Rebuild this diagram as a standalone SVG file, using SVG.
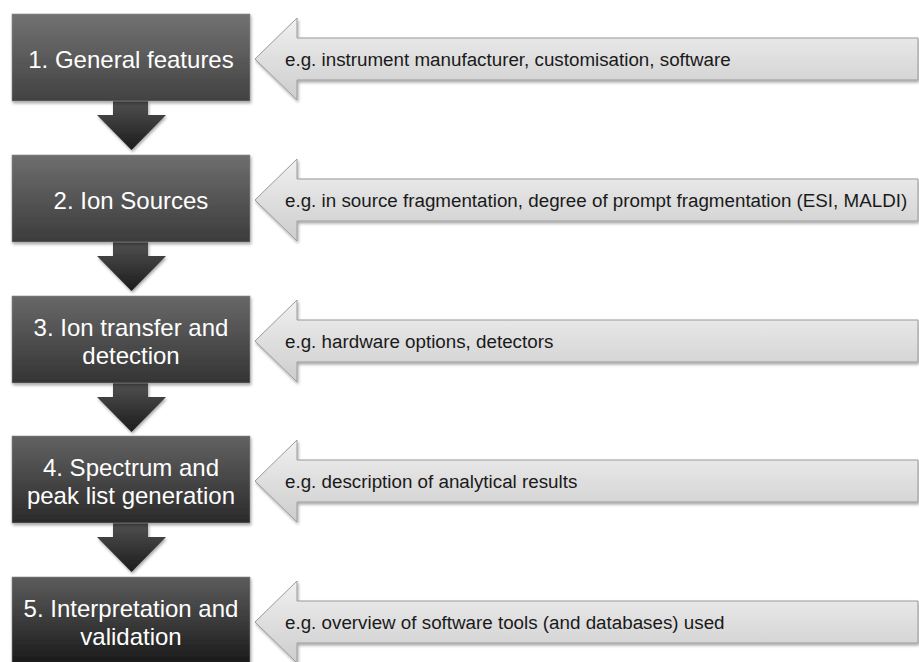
<svg xmlns="http://www.w3.org/2000/svg" width="919" height="662" viewBox="0 0 919 662">
<defs>
<linearGradient id="g1" x1="0" y1="0" x2="0" y2="1"><stop offset="0" stop-color="#727272"/><stop offset="1" stop-color="#424242"/></linearGradient>
<linearGradient id="g2" x1="0" y1="0" x2="0" y2="1"><stop offset="0" stop-color="#6e6e6e"/><stop offset="1" stop-color="#3c3c3c"/></linearGradient>
<linearGradient id="g3" x1="0" y1="0" x2="0" y2="1"><stop offset="0" stop-color="#686868"/><stop offset="1" stop-color="#343434"/></linearGradient>
<linearGradient id="g4" x1="0" y1="0" x2="0" y2="1"><stop offset="0" stop-color="#626262"/><stop offset="1" stop-color="#2a2a2a"/></linearGradient>
<linearGradient id="g5" x1="0" y1="0" x2="0" y2="1"><stop offset="0" stop-color="#5c5c5c"/><stop offset="1" stop-color="#1a1a1a"/></linearGradient>
<linearGradient id="gd" x1="0" y1="0" x2="0" y2="1"><stop offset="0" stop-color="#505050"/><stop offset="1" stop-color="#1c1c1c"/></linearGradient>
<linearGradient id="gl" x1="0" y1="0" x2="0" y2="1"><stop offset="0" stop-color="#f0f0f0"/><stop offset="1" stop-color="#cdcdcd"/></linearGradient>
<filter id="sh" x="-10%" y="-10%" width="120%" height="130%">
<feDropShadow dx="1" dy="2" stdDeviation="1.5" flood-color="#000" flood-opacity="0.35"/>
</filter>
<path id="la" d="M255 0 L297 -41 L297 -21 L918 -21 L918 21 L297 21 L297 41 Z"/>
<path id="da" d="M113 0 L148 0 L148 14 L166 14 L131.5 49 L97 14 L113 14 Z"/>
</defs>
<style>
.box{stroke:#8a8a8a;stroke-width:0.6;filter:url(#sh)}
.lbl{font-family:"Liberation Sans",Arial,sans-serif;font-size:24px;fill:#ffffff;text-anchor:middle}
.arr{fill:url(#gl);stroke:#9a9a9a;stroke-width:1;filter:url(#sh)}
.txt{font-family:"Liberation Sans",Arial,sans-serif;font-size:18.8px;fill:#1a1a1a}
.dn{fill:url(#gd);filter:url(#sh)}
</style>
<rect width="919" height="662" fill="#ffffff"/>
<g id="connectors">
<use href="#da" class="dn" transform="translate(0,101)"/>
<use href="#da" class="dn" transform="translate(0,242)"/>
<use href="#da" class="dn" transform="translate(0,383)"/>
<use href="#da" class="dn" transform="translate(0,523)"/>
<g id="hint1"><use href="#la" class="arr" transform="translate(0,59)"/><text class="txt" x="285" y="66">e.g. instrument manufacturer, customisation, software</text></g>
<g id="hint2"><use href="#la" class="arr" transform="translate(0,200)"/><text class="txt" x="285" y="207">e.g. in source fragmentation, degree of prompt fragmentation (ESI, MALDI)</text></g>
<g id="hint3"><use href="#la" class="arr" transform="translate(0,341)"/><text class="txt" x="285" y="348">e.g. hardware options, detectors</text></g>
<g id="hint4"><use href="#la" class="arr" transform="translate(0,481)"/><text class="txt" x="285" y="488">e.g. description of analytical results</text></g>
<g id="hint5"><use href="#la" class="arr" transform="translate(0,622)"/><text class="txt" x="285" y="629">e.g. overview of software tools (and databases) used</text></g>
</g>
<g id="node1"><rect class="box" x="12" y="14" width="238" height="87" fill="url(#g1)"/><text class="lbl" x="131" y="68">1. General features</text></g>
<g id="node2"><rect class="box" x="12" y="155" width="238" height="87" fill="url(#g2)"/><text class="lbl" x="131" y="209">2. Ion Sources</text></g>
<g id="node3"><rect class="box" x="12" y="296" width="238" height="87" fill="url(#g3)"/><text class="lbl" x="131" y="336">3. Ion transfer and</text><text class="lbl" x="131" y="364">detection</text></g>
<g id="node4"><rect class="box" x="12" y="436" width="238" height="87" fill="url(#g4)"/><text class="lbl" x="131" y="476">4. Spectrum and</text><text class="lbl" x="131" y="504">peak list generation</text></g>
<g id="node5"><rect class="box" x="12" y="577" width="238" height="87" fill="url(#g5)"/><text class="lbl" x="131" y="617">5. Interpretation and</text><text class="lbl" x="131" y="645">validation</text></g>
</svg>
